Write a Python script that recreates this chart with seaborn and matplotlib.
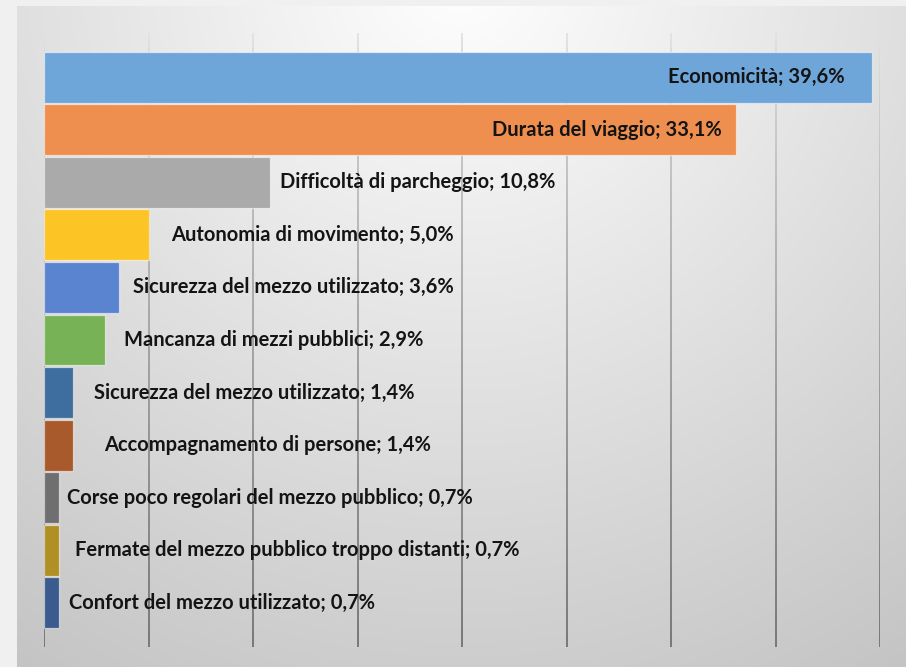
import numpy as np
import pandas as pd
import matplotlib
matplotlib.use("Agg")
import matplotlib.pyplot as plt
import matplotlib.transforms as mtransforms
from matplotlib.collections import LineCollection
import seaborn as sns

# Motivi di scelta del mezzo (percentuale delle risposte)
categories = [
    "Economicità",
    "Durata del viaggio",
    "Difficoltà di parcheggio",
    "Autonomia di movimento",
    "Sicurezza del mezzo utilizzato",
    "Mancanza di mezzi pubblici",
    "Sicurezza del mezzo utilizzato",
    "Accompagnamento di persone",
    "Corse poco regolari del mezzo pubblico",
    "Fermate del mezzo pubblico troppo distanti",
    "Confort del mezzo utilizzato",
]
values = [39.6, 33.1, 10.8, 5.0, 3.6, 2.9, 1.4, 1.4, 0.7, 0.7, 0.7]
x_ticks = [0, 5, 10, 15, 20, 25, 30, 35, 40]

bar_colors = [
    "#6fa6da", "#ee8e4f", "#aaaaaa", "#fcc424", "#5a83d0", "#78b257",
    "#3d6e9f", "#a85a2d", "#6f6f6f", "#b08f25", "#3b5b8f",
]
# horizontal shift of each label from the end of its bar, in pixels
label_shift_px = [-27, -14, 10, 23, 14, 19, 21, 31, 8, 16, 10]

sns.set_style("white")
plt.rcParams["font.family"] = ["Lato", "DejaVu Sans"]

W, H = 906, 667
fig = plt.figure(figsize=(W / 100, H / 100), dpi=100)
fig.patch.set_facecolor("#f0f0f0")

# chart area with a soft radial gradient (light at the top centre)
yy, xx = np.mgrid[0:H, 0:W]
dist = np.sqrt(((xx - 460) / 700.0) ** 2 + ((yy + 30) / 700.0) ** 2)
shade = np.clip(255 - 50 * dist, 190, 255)
bg = np.full((H, W), 240.0)
area = (xx >= 17) & (yy >= 6)
bg[area] = shade[area]
bg_rgb = np.repeat(bg[:, :, None], 3, axis=2).astype(np.uint8)
fig.figimage(bg_rgb, 0, 0, origin="upper", zorder=-5)

ax = fig.add_axes([44 / W, 20 / H, 836 / W, 614 / H])
ax.patch.set_alpha(0)

keys = [f"r{i}" for i in range(len(values))]
df = pd.DataFrame({"key": keys, "value": values})
sns.barplot(
    data=df, x="value", y="key", hue="key", order=keys, hue_order=keys,
    palette=dict(zip(keys, bar_colors)), orient="h", width=0.97,
    saturation=1, legend=False, edgecolor=(1, 1, 1, 0.55), linewidth=0.9,
    ax=ax, zorder=2,
)

ax.set_xlim(0, 40)
ax.set_ylim(len(values) - 0.5 + 0.34, -0.5 - 0.34)
ax.set_xticks(x_ticks)
ax.set_xticklabels([])
ax.set_yticks([])
ax.tick_params(length=0)
ax.set_xlabel("")
ax.set_ylabel("")
for s in ax.spines.values():
    s.set_visible(False)

# vertical gridlines, darkening towards the bottom of the chart
trans = mtransforms.blended_transform_factory(ax.transData, ax.transAxes)
n = 80
ys = np.linspace(1, 0, n + 1)
segs, cols = [], []
for xt in ax.get_xticks():
    for i in range(n):
        t = (i + 0.5) / n
        g = (228 - 115 * t ** 0.75) / 255.0
        segs.append([(xt, ys[i]), (xt, ys[i + 1])])
        cols.append((g, g, g))
ax.add_collection(LineCollection(segs, colors=cols, linewidths=1.3,
                                 transform=trans, zorder=1))

# data labels
for i, (cat, val) in enumerate(zip(categories, values)):
    txt = f"{cat}; {val:.1f}%".replace(".", ",")
    sh = label_shift_px[i]
    ax.annotate(txt, xy=(val, i), xytext=(sh, 0), textcoords="offset pixels",
                ha="right" if sh < 0 else "left", va="center",
                fontsize=14.5, fontweight="bold", color="#141414", zorder=3)

fig.savefig("out.png", dpi=100, facecolor=fig.get_facecolor())
